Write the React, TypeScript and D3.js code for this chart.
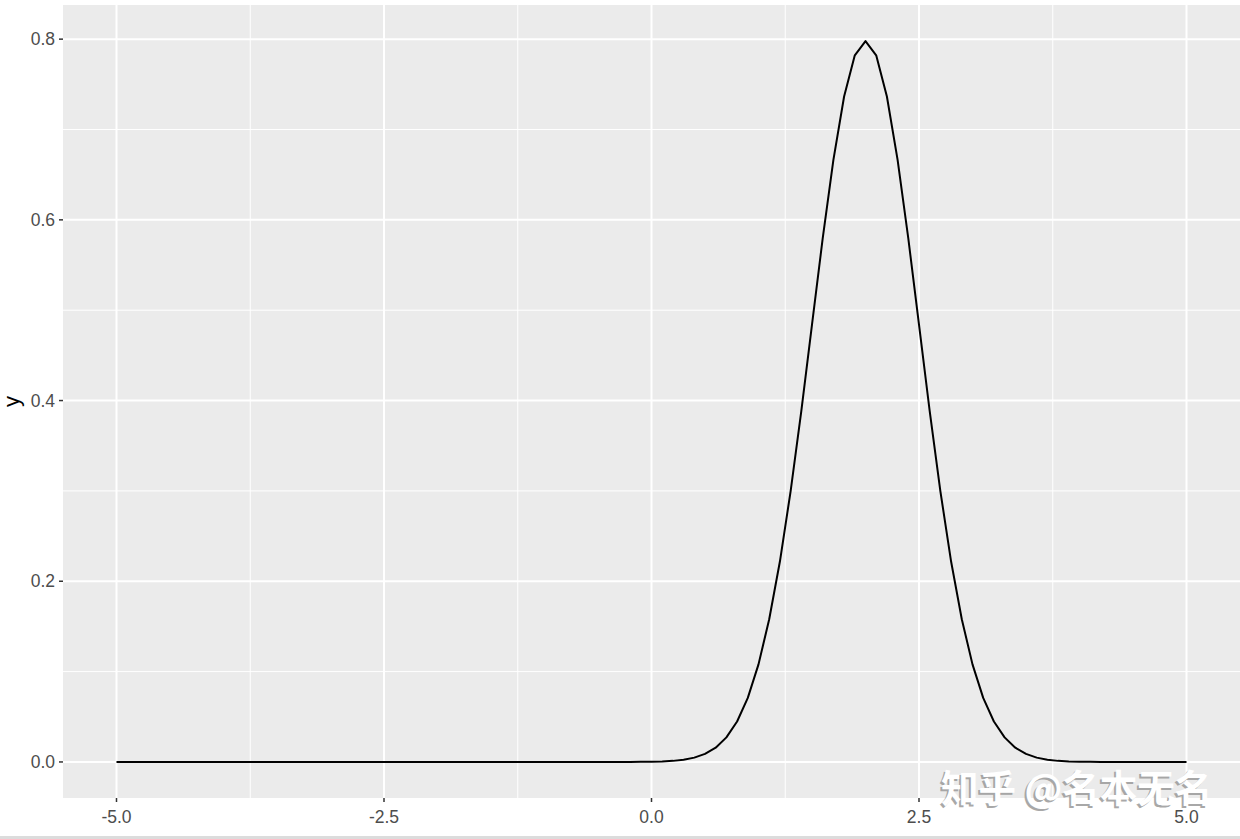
import * as d3 from 'd3';

const xs = [
  -5.0, -4.9, -4.8, -4.7, -4.6, -4.5, -4.4, -4.3, -4.2, -4.1,
  -4.0, -3.9, -3.8, -3.7, -3.6, -3.5, -3.4, -3.3, -3.2, -3.1,
  -3.0, -2.9, -2.8, -2.7, -2.6, -2.5, -2.4, -2.3, -2.2, -2.1,
  -2.0, -1.9, -1.8, -1.7, -1.6, -1.5, -1.4, -1.3, -1.2, -1.1,
  -1.0, -0.9, -0.8, -0.7, -0.6, -0.5, -0.4, -0.3, -0.2, -0.1,
  0.0, 0.1, 0.2, 0.3, 0.4, 0.5, 0.6, 0.7, 0.8, 0.9,
  1.0, 1.1, 1.2, 1.3, 1.4, 1.5, 1.6, 1.7, 1.8, 1.9,
  2.0, 2.1, 2.2, 2.3, 2.4, 2.5, 2.6, 2.7, 2.8, 2.9,
  3.0, 3.1, 3.2, 3.3, 3.4, 3.5, 3.6, 3.7, 3.8, 3.9,
  4.0, 4.1, 4.2, 4.3, 4.4, 4.5, 4.6, 4.7, 4.8, 4.9,
  5.0,
];
const ys = [
  0, 0, 0, 0, 0, 0, 0, 0, 0, 0,
  0, 0, 0, 0, 0, 0, 0, 0, 0, 0,
  0, 0, 0, 0, 0, 0, 0, 0, 0, 0,
  0, 0, 0, 0, 0, 0, 0, 0, 0, 0,
  0, 0, 0, 0, 0, 0, 0, 0, 0, 0.0001,
  0.0003, 0.0006, 0.0012, 0.0025, 0.0048, 0.0089, 0.0158, 0.0272, 0.0448, 0.0709,
  0.108, 0.1579, 0.2218, 0.2995, 0.3884, 0.4839, 0.5794, 0.6664, 0.7365, 0.7821,
  0.7979, 0.7821, 0.7365, 0.6664, 0.5794, 0.4839, 0.3884, 0.2995, 0.2218, 0.1579,
  0.108, 0.0709, 0.0448, 0.0272, 0.0158, 0.0089, 0.0048, 0.0025, 0.0012, 0.0006,
  0.0003, 0.0001, 0, 0, 0, 0, 0, 0, 0, 0,
  0,
];

const xTicks = [-5, -2.5, 0, 2.5, 5];
const xMinor = [-3.75, -1.25, 1.25, 3.75];
const yTicks = [0, 0.2, 0.4, 0.6, 0.8];
const yMinor = [0.1, 0.3, 0.5, 0.7];

const W = 1240;
const H = 839;
const panel = { left: 63, right: 1240, top: 5, bottom: 798 };
const font = "'Liberation Sans', Arial, Helvetica, sans-serif";

export default function App() {
  const yMax = d3.max(ys)!;
  const xPad = (d3.max(xs)! - d3.min(xs)!) * 0.05;
  const yPad = yMax * 0.05;

  const x = d3
    .scaleLinear()
    .domain([d3.min(xs)! - xPad, d3.max(xs)! + xPad])
    .range([panel.left, panel.right]);
  const y = d3
    .scaleLinear()
    .domain([0 - yPad, yMax + yPad])
    .range([panel.bottom, panel.top]);

  const line = d3
    .line<number>()
    .x((_, i) => x(xs[i]))
    .y((d) => y(d));

  return (
    <svg
      width={W}
      height={H}
      style={{ position: 'absolute', left: 0, top: 0, display: 'block' }}
    >
      <rect width={W} height={H} fill="#ffffff" />

      {/* Panel */}
      <rect
        x={panel.left}
        y={panel.top}
        width={panel.right - panel.left}
        height={panel.bottom - panel.top}
        fill="#ebebeb"
      />

      {/* Minor grid */}
      {xMinor.map((t) => (
        <line key={'xm' + t} x1={x(t)} x2={x(t)} y1={panel.top} y2={panel.bottom} stroke="#fff" strokeWidth={1} />
      ))}
      {yMinor.map((t) => (
        <line key={'ym' + t} x1={panel.left} x2={panel.right} y1={y(t)} y2={y(t)} stroke="#fff" strokeWidth={1} />
      ))}

      {/* Major grid */}
      {xTicks.map((t) => (
        <line key={'xg' + t} x1={x(t)} x2={x(t)} y1={panel.top} y2={panel.bottom} stroke="#fff" strokeWidth={2} />
      ))}
      {yTicks.map((t) => (
        <line key={'yg' + t} x1={panel.left} x2={panel.right} y1={y(t)} y2={y(t)} stroke="#fff" strokeWidth={2} />
      ))}

      {/* Curve */}
      <path d={line(ys) ?? ''} fill="none" stroke="#000" strokeWidth={2} strokeLinejoin="round" />

      {/* X axis */}
      {xTicks.map((t) => (
        <g key={'xt' + t}>
          <line x1={x(t)} x2={x(t)} y1={panel.bottom} y2={panel.bottom + 4} stroke="#333" strokeWidth={1.5} />
          <text
            x={x(t)}
            y={panel.bottom + 25}
            textAnchor="middle"
            fontFamily={font}
            fontSize={17.5}
            fill="#4d4d4d"
          >
            {t.toFixed(1)}
          </text>
        </g>
      ))}

      {/* Y axis */}
      {yTicks.map((t) => (
        <g key={'yt' + t}>
          <line x1={panel.left - 4} x2={panel.left} y1={y(t)} y2={y(t)} stroke="#333" strokeWidth={1.5} />
          <text
            x={panel.left - 8}
            y={y(t)}
            dy="0.35em"
            textAnchor="end"
            fontFamily={font}
            fontSize={17.5}
            fill="#4d4d4d"
          >
            {t.toFixed(1)}
          </text>
        </g>
      ))}
      <text
        transform={`translate(19, ${(panel.top + panel.bottom) / 2}) rotate(-90)`}
        textAnchor="middle"
        fontFamily={font}
        fontSize={22}
        fill="#000"
      >
        y
      </text>

      {/* Watermark */}
      <g fontFamily="'Noto Sans CJK SC', sans-serif" fontSize={37.5} fontWeight={700}>
        <text x={939} y={804} fill="#9a9a9a" opacity={0.85}>
          知乎 @名本无名
        </text>
        <text x={941} y={802} fill="#ffffff">
          知乎 @名本无名
        </text>
      </g>

      {/* bottom strip */}
      <rect x={0} y={836} width={W} height={3} fill="#dcdcdc" />
    </svg>
  );
}
